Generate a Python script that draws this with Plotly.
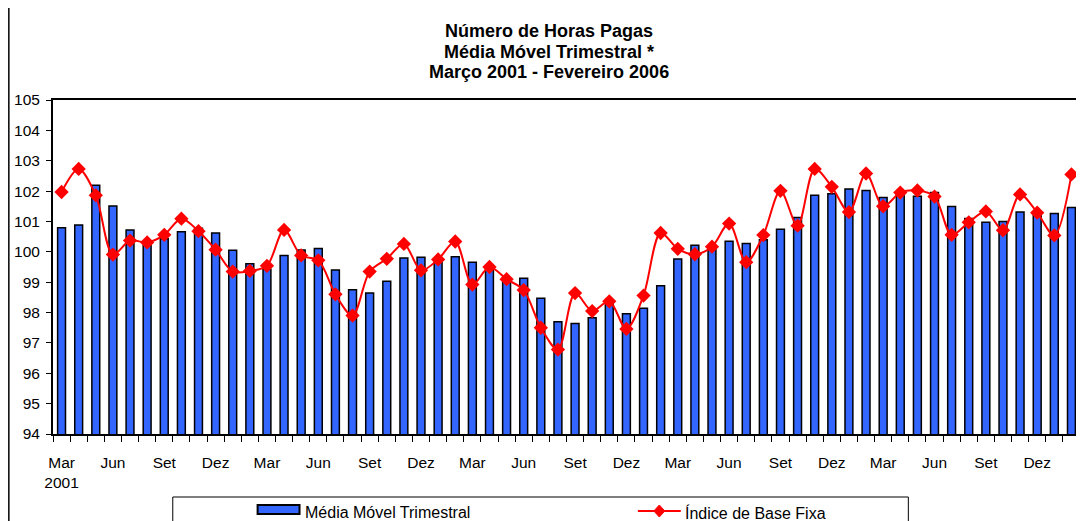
import plotly.graph_objects as go

# ---- data ----
month_names = ["Mar", "Abr", "Mai", "Jun", "Jul", "Ago", "Set", "Out", "Nov", "Dez", "Jan", "Fev"]
start_year = 2001
n_months = 60

media_movel = [
    100.79, 100.88, 102.19, 101.51, 100.72, 100.21, 100.43, 100.66, 100.78, 100.62,
    100.05, 99.61, 99.43, 99.88, 100.06, 100.11, 99.40, 98.75, 98.64, 99.03,
    99.80, 99.82, 99.78, 99.84, 99.66, 99.55, 99.05, 99.13, 98.47, 97.70,
    97.64, 97.83, 98.35, 97.96, 98.14, 98.88, 99.76, 100.22, 100.12, 100.35,
    100.27, 100.40, 100.74, 101.13, 101.86, 101.91, 102.07, 102.02, 101.79, 101.92,
    101.83, 101.95, 101.49, 101.10, 100.97, 101.00, 101.31, 101.27, 101.26, 101.46,
]

indice_base_fixa = [
    101.97, 102.73, 101.86, 99.91, 100.37, 100.31, 100.56, 101.09, 100.68, 100.07,
    99.35, 99.37, 99.54, 100.72, 99.88, 99.72, 98.60, 97.90, 99.35, 99.77,
    100.26, 99.39, 99.75, 100.34, 98.92, 99.50, 99.10, 98.74, 97.50, 96.78,
    98.64, 98.05, 98.37, 97.46, 98.56, 100.62, 100.10, 99.92, 100.17, 100.93,
    99.66, 100.55, 102.01, 100.86, 102.73, 102.14, 101.31, 102.58, 101.50, 101.95,
    102.02, 101.82, 100.56, 100.97, 101.33, 100.71, 101.89, 101.29, 100.54, 102.55,
]

title_lines = ["Número de Horas Pagas", "Média Móvel Trimestral *", "Março 2001 - Fevereiro 2006"]
legend_names = ["Média Móvel Trimestral", "Índice de Base Fixa"]

# categories
x_idx = list(range(n_months))
cat_labels = []
for i in range(n_months):
    m = month_names[i % 12]
    y = start_year + (i + 2) // 12
    cat_labels.append(f"{m} {y}")

tick_vals = list(range(0, n_months, 3))
tick_text = []
for i in tick_vals:
    m = month_names[i % 12]
    tick_text.append(m + ("<br>2001" if i == 0 else ""))

# ---- layout geometry (pixels, in reference-image coordinates) ----
OFF = 8  # page body margin of the rendered html
W, H = 1084 - OFF, 521 - OFF
PL, PR, PT, PB = 53, 1082, 100, 434   # plot area in reference pixels
ML, MT = PL - OFF, PT - OFF
MR = W - (PR - OFF)
MB = H - (PB - OFF)
PW, PH = PR - PL, PB - PT


def px(x):
    return (x - PL) / PW


def py(y):
    return (PB - y) / PH


FONT = "Arial, Liberation Sans, sans-serif"
BLUE = "#3366FF"
RED = "#FF0000"

fig = go.Figure()
fig.add_trace(go.Bar(
    x=x_idx, y=media_movel, name=legend_names[0], width=0.46,
    marker=dict(color=BLUE, line=dict(color="black", width=1.5)),
    showlegend=False, hovertext=cat_labels,
))
fig.add_trace(go.Scatter(
    x=x_idx, y=indice_base_fixa, name=legend_names[1], mode="lines+markers",
    line=dict(color=RED, width=2, shape="spline", smoothing=0.9),
    marker=dict(symbol="diamond", size=11, color=RED),
    showlegend=False, hovertext=cat_labels,
))

annotations = []
for t, yy in zip(title_lines, [31.5, 51.5, 71.5]):
    annotations.append(dict(
        text=f"<b>{t}</b>", x=px(550), y=py(yy), xref="paper", yref="paper",
        xanchor="center", yanchor="middle", showarrow=False,
        font=dict(family=FONT, size=18, color="black"),
    ))
annotations.append(dict(text=legend_names[0], x=px(303), y=py(512.5), xref="paper", yref="paper",
                        xanchor="left", yanchor="middle", showarrow=False,
                        font=dict(family=FONT, size=16, color="black")))
annotations.append(dict(text=legend_names[1], x=px(684), y=py(512.5), xref="paper", yref="paper",
                        xanchor="left", yanchor="middle", showarrow=False,
                        font=dict(family=FONT, size=16, color="black")))

cx, cy, dx, dy = 660.5, 511, 5.5, 6
diamond = (f"M {px(cx)} {py(cy - dy)} L {px(cx + dx)} {py(cy)} "
           f"L {px(cx)} {py(cy + dy)} L {px(cx - dx)} {py(cy)} Z")

shapes = [
    # outer chart border, left edge (as close to the page edge as the figure allows)
    dict(type="line", xref="paper", yref="paper", x0=px(OFF + 0.75), x1=px(OFF + 0.75),
         y0=py(-5), y1=py(530), line=dict(color="black", width=1.5)),
    dict(type="rect", xref="paper", yref="paper", x0=px(173), x1=px(910), y0=py(497), y1=py(540),
         line=dict(color="black", width=1)),
    dict(type="rect", xref="paper", yref="paper", x0=px(258), x1=px(300), y0=py(505), y1=py(514),
         fillcolor=BLUE, line=dict(color="black", width=2)),
    dict(type="line", xref="paper", yref="paper", x0=px(639), x1=px(682), y0=py(511), y1=py(511),
         line=dict(color=RED, width=2)),
    dict(type="path", xref="paper", yref="paper", path=diamond, fillcolor=RED, line=dict(color=RED, width=1)),
]

fig.update_layout(
    width=W, height=H, autosize=False,
    margin=dict(l=ML, r=MR, t=MT, b=MB, pad=0),
    paper_bgcolor="white", plot_bgcolor="white",
    font=dict(family=FONT, size=16, color="black"),
    annotations=annotations, shapes=shapes,
    showlegend=False,
)
fig.update_xaxes(
    range=[-0.5, n_months - 0.5], tickmode="array", tickvals=tick_vals, ticktext=tick_text,
    ticks="", showgrid=False, zeroline=False,
    showline=True, linecolor="black", linewidth=2, mirror=True,
    tickfont=dict(family=FONT, size=15.5, color="black"), ticklabelstandoff=13,
    minor=dict(tickmode="array", tickvals=[i - 0.5 for i in range(n_months + 1)],
               ticks="outside", ticklen=6, tickwidth=1, tickcolor="black"),
)
fig.update_yaxes(
    range=[94, 105], tickmode="linear", tick0=94, dtick=1,
    ticks="outside", ticklen=5, tickwidth=1, tickcolor="black",
    showgrid=False, zeroline=False,
    showline=True, linecolor="black", linewidth=2, mirror=True,
    tickfont=dict(family=FONT, size=15.5, color="black"), ticklabelstandoff=3,
)

fig.write_html("out.html")
